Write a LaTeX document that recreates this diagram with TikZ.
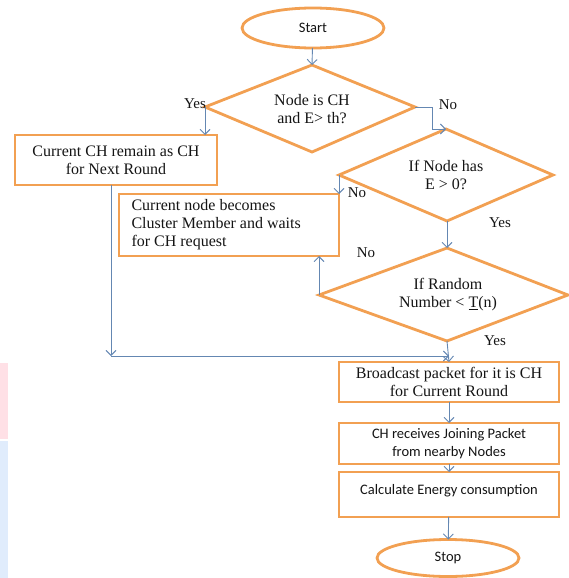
\documentclass[tikz,border=0pt]{standalone}
\usepackage{fontspec}
\setmainfont{Liberation Serif}
\newfontfamily\calib{Carlito}
\usetikzlibrary{arrows.meta,calc,shapes.geometric}
\definecolor{boxorange}{RGB}{242,160,82}
\definecolor{arrblue}{RGB}{100,135,178}
\definecolor{txt}{RGB}{20,20,20}
\definecolor{wmpink}{RGB}{255,224,230}
\definecolor{wmblue}{RGB}{224,236,252}
\tikzset{
  orangeline/.style={draw=boxorange,line width=2.8pt,line join=miter},
  procbox/.style={orangeline,rectangle,inner sep=2pt,outer sep=0pt,text=txt,align=center,font=\fontsize{16}{18}\selectfont},
  sansbox/.style={procbox,font=\calib\fontsize{14.5}{18}\selectfont},
  term/.style={orangeline,ellipse,inner sep=0pt,outer sep=0pt,text=txt,font=\calib\fontsize{14.5}{18}\selectfont},
  dtext/.style={text=txt,align=center,font=\fontsize{16}{18}\selectfont},
  lab/.style={text=txt,inner sep=0pt,font=\fontsize{15}{18}\selectfont},
  arr/.style={draw=arrblue,line width=0.9pt,-{Straight Barb[length=5pt,width=10pt]}}
}
\begin{document}
\begin{tikzpicture}[x=1pt,y=-1pt]
\useasboundingbox (0,0) rectangle (569,578);
% faint background bleed at left edge
\fill[wmpink] (0,363) rectangle (8,439);
\fill[wmblue] (0,441) rectangle (8,578);

% terminals
\node[term,minimum width=142pt,minimum height=40pt] (start) at (313,28) {Start};
\node[term,minimum width=142pt,minimum height=37pt] (stop) at (448,558) {Stop};

% diamond 1
\coordinate (d1t) at (312,65);
\coordinate (d1l) at (205,107);
\coordinate (d1r) at (415,107);
\coordinate (d1b) at (312,152);
\draw[orangeline] (d1t) -- (d1r) -- (d1b) -- (d1l) -- cycle;
\node[dtext] (d1txt) at (312,109) {Node is CH\\and E> th?};

% diamond 2
\coordinate (d2t) at (446,129);
\coordinate (d2l) at (339,175);
\coordinate (d2r) at (553,175);
\coordinate (d2b) at (447,221);
\draw[orangeline] (d2t) -- (d2r) -- (d2b) -- (d2l) -- cycle;
\node[dtext] (d2txt) at (446,175) {If Node has\\E > 0?};

% diamond 3
\coordinate (d3t) at (447,248);
\coordinate (d3l) at (319,295);
\coordinate (d3r) at (568,295);
\coordinate (d3b) at (447,341);
\draw[orangeline] (d3t) -- (d3r) -- (d3b) -- (d3l) -- cycle;
\node[dtext] (d3txt) at (448,295) {If Random\\Number < \underline{T}(n)};

% boxes
\node[procbox,minimum width=202pt,minimum height=50pt] (box1) at (116,160) {Current CH remain as CH\\for Next Round};
\node[procbox,minimum width=220pt,minimum height=62pt] (box2) at (229,225) {};
\node[dtext,anchor=west,align=left] (box2txt) at (128,225) {Current node becomes\\Cluster Member and waits\\for CH request};
\node[procbox,minimum width=220pt,minimum height=40pt] (bc) at (449,382) {Broadcast packet for it is CH\\for Current Round};
\node[sansbox,minimum width=220pt,minimum height=41pt] (chr) at (449,443.5) {CH receives Joining Packet\\from nearby Nodes};
\node[sansbox,minimum width=220pt,minimum height=45pt] (calc) at (449,494.5) {};
\node[text=txt,font=\calib\fontsize{14.5}{18}\selectfont] (calctxt) at (449,491) {Calculate Energy consumption};

% connectors
\draw[arr] (start) -- (d1t);
\draw[arr] (d1l) -- (d1l |- box1.north);
\draw[arr] (d1r) -- ([xshift=17pt]d1r) |- (d2t);
\draw[arr] (d2l) -- (box2.north east);
\draw[arr] (d2b) -- (d3t);
\draw[arr] (d3l) -- (d3l |- box2.south);
\draw[arr] (d3b) -- (bc.north);
\coordinate (m) at (111,356);
\draw[arr] (box1.south -| m) -- (m);
\draw[arr] (m) -- (m -| bc.north);
\draw[arr] (bc) -- (chr);
\draw[arr] (chr) -- (calc);
\draw[arr] (calc) -- (stop);

% labels
\node[lab] (l1) at (195,104) {Yes};
\node[lab] (l2) at (448,105) {No};
\node[lab] (l3) at (357,193) {No};
\node[lab] (l4) at (500,223) {Yes};
\node[lab] (l5) at (366,253) {No};
\node[lab] (l6) at (495,341) {Yes};
\end{tikzpicture}
\end{document}
